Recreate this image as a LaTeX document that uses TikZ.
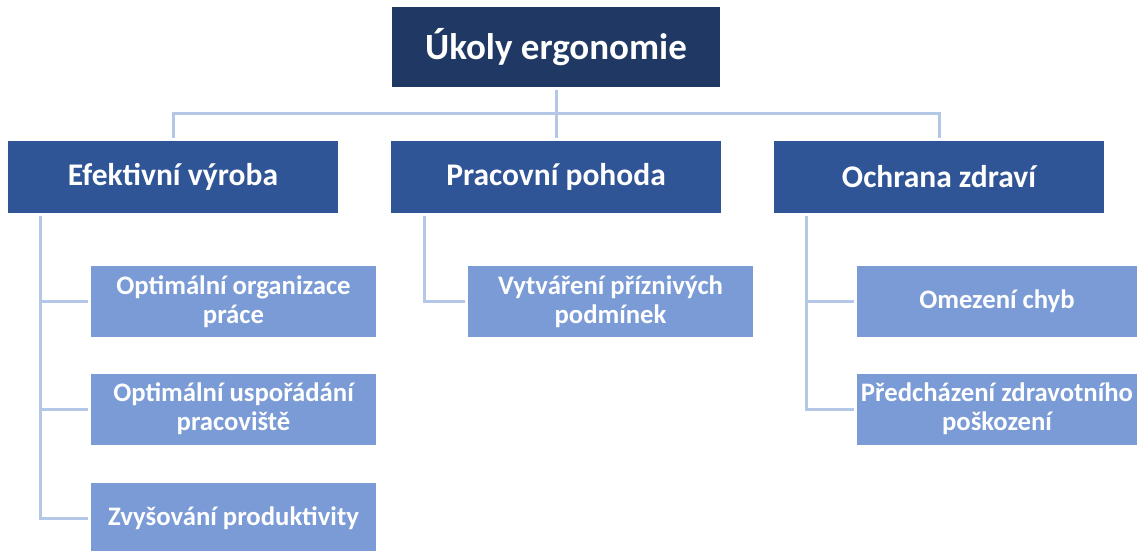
\documentclass[tikz,border=0pt]{standalone}
\usepackage{fontspec}
\setmainfont{Carlito}
\definecolor{topc}{HTML}{203864}
\definecolor{midc}{HTML}{2F5597}
\definecolor{leafc}{HTML}{7A9BD6}
\definecolor{linec}{HTML}{B4C7E7}
\begin{document}
\begin{tikzpicture}[x=1pt,y=-1pt,
  topbox/.style={fill=topc,text=white,font=\bfseries\fontsize{37}{42}\selectfont,minimum width=328pt,minimum height=80pt,inner sep=0pt},
  midbox/.style={fill=midc,text=white,font=\bfseries\fontsize{31.5}{36}\selectfont,minimum width=330pt,minimum height=72pt,inner sep=0pt},
  leafbox/.style={fill=leafc,text=white,font=\bfseries\fontsize{26.7}{29}\selectfont,minimum width=285pt,minimum height=71pt,inner sep=0pt,align=center},
  conn/.style={draw=linec,line width=3pt}]
\useasboundingbox (0,0) rectangle (1137,550);
\node[topbox] (top) at (556,47) {Úkoly ergonomie};
\node[midbox] (ef) at (173,177) {Efektivní výroba};
\node[midbox] (pp) at (556,177) {Pracovní pohoda};
\node[midbox] (oz) at (939,177) {Ochrana zdraví};
\node[leafbox] (ef1) at (233.5,301.5) {Optimální organizace\\práce};
\node[leafbox] (ef2) at (233.5,409) {Optimální uspořádání\\pracoviště};
\node[leafbox] (ef3) at (233.5,518) {Zvyšování produktivity};
\node[leafbox] (pp1) at (610.5,301.5) {Vytváření příznivých\\podmínek};
\node[leafbox,minimum width=280pt] (oz1) at (997,301.5) {Omezení chyb};
\node[leafbox,minimum width=280pt] (oz2) at (997,409) {Předcházení zdravotního\\poškození};
\coordinate (bus) at (556,113);
\coordinate (eft) at (40,216);
\coordinate (ppt) at (424,216);
\coordinate (ozt) at (806,216);
\draw[conn,shorten <=3pt,shorten >=3pt] (top.south) -- (pp.north);
\draw[conn,shorten <=3pt,shorten >=3pt] (ef.north) -- (ef.north |- bus) -- (oz.north |- bus) -- (oz.north);
\draw[conn,shorten >=3pt] (eft) |- (ef1.west);
\draw[conn,shorten >=3pt] (eft) |- (ef2.west);
\draw[conn,shorten >=3pt] (eft) |- (ef3.west);
\draw[conn,shorten >=3pt] (ppt) |- (pp1.west);
\draw[conn,shorten >=3pt] (ozt) |- (oz1.west);
\draw[conn,shorten >=3pt] (ozt) |- (oz2.west);
\end{tikzpicture}
\end{document}
